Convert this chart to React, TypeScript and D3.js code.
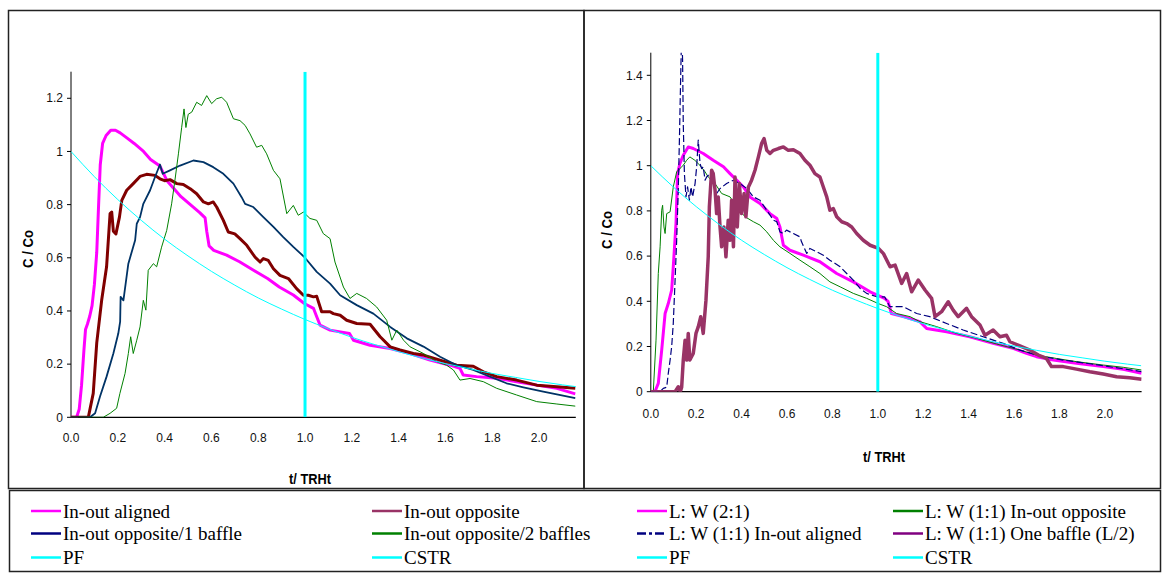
import React from "react";
import * as d3 from "d3";

type Pt = [number, number];

// ---------- tick labels ----------
const xTickValues = [0, 0.2, 0.4, 0.6, 0.8, 1.0, 1.2, 1.4, 1.6, 1.8, 2.0];
const leftYTickValues = [0, 0.2, 0.4, 0.6, 0.8, 1, 1.2];
const rightYTickValues = [0, 0.2, 0.4, 0.6, 0.8, 1, 1.2, 1.4];
const yAxisTitle = "C / Co";
const xAxisTitle = "t/ TRHt";
const pfTime = 1.0;

// ---------- left chart series ----------
const inOutAligned: Pt[] = [
  [0, 0], [0.024, 0], [0.035, 0.03], [0.045, 0.12], [0.055, 0.25], [0.062, 0.33], [0.07, 0.35], [0.08, 0.38],
  [0.09, 0.42], [0.1, 0.5], [0.11, 0.62], [0.118, 0.8], [0.125, 0.95], [0.135, 1.03], [0.15, 1.06], [0.17, 1.08],
  [0.19, 1.08], [0.21, 1.07], [0.24, 1.05], [0.27, 1.03], [0.31, 1.0], [0.34, 0.97], [0.38, 0.945], [0.41, 0.89],
  [0.44, 0.86], [0.47, 0.83], [0.51, 0.8], [0.55, 0.77], [0.573, 0.75], [0.58, 0.7], [0.59, 0.645], [0.61, 0.628],
  [0.665, 0.61], [0.72, 0.585], [0.78, 0.553], [0.84, 0.522], [0.89, 0.49], [0.95, 0.46], [0.997, 0.428],
  [1.036, 0.41], [1.05, 0.378], [1.064, 0.347], [1.107, 0.328], [1.19, 0.315], [1.207, 0.29], [1.278, 0.271],
  [1.364, 0.259], [1.449, 0.24], [1.534, 0.215], [1.62, 0.196], [1.662, 0.184], [1.676, 0.159], [1.733, 0.153],
  [1.819, 0.147], [1.904, 0.134], [1.99, 0.121], [2.076, 0.109], [2.155, 0.088],
];

const inOutOpposite: Pt[] = [
  [0, 0], [0.074, 0], [0.081, 0.03], [0.095, 0.09], [0.11, 0.28], [0.131, 0.44], [0.152, 0.566], [0.167, 0.766],
  [0.174, 0.772], [0.181, 0.7], [0.192, 0.69], [0.207, 0.753], [0.217, 0.816], [0.238, 0.854], [0.266, 0.879],
  [0.295, 0.906], [0.323, 0.914], [0.359, 0.91], [0.38, 0.897], [0.4, 0.89], [0.423, 0.894], [0.452, 0.879],
  [0.48, 0.876], [0.509, 0.86], [0.537, 0.841], [0.566, 0.81], [0.587, 0.803], [0.608, 0.81], [0.623, 0.79],
  [0.651, 0.741], [0.672, 0.697], [0.7, 0.69], [0.722, 0.672], [0.751, 0.647], [0.786, 0.603], [0.808, 0.584],
  [0.822, 0.597], [0.843, 0.59], [0.865, 0.559], [0.893, 0.534], [0.929, 0.522], [0.964, 0.484], [0.993, 0.459],
  [1.014, 0.459], [1.036, 0.453], [1.05, 0.455], [1.071, 0.397], [1.107, 0.397], [1.121, 0.39], [1.15, 0.384],
  [1.178, 0.365], [1.221, 0.353], [1.278, 0.35], [1.321, 0.303], [1.364, 0.265], [1.406, 0.253], [1.463, 0.24],
  [1.506, 0.234], [1.577, 0.215], [1.648, 0.196], [1.719, 0.192], [1.762, 0.171], [1.819, 0.153], [1.904, 0.14],
  [1.99, 0.121], [2.076, 0.115], [2.155, 0.109],
];

const opposite1Baffle: Pt[] = [
  [0, 0], [0.081, 0], [0.103, 0.015], [0.124, 0.078], [0.152, 0.153], [0.181, 0.24], [0.202, 0.315], [0.21, 0.36],
  [0.212, 0.453], [0.224, 0.44], [0.245, 0.578], [0.274, 0.666], [0.281, 0.728], [0.295, 0.753], [0.309, 0.803],
  [0.338, 0.854], [0.359, 0.904], [0.38, 0.951], [0.392, 0.916], [0.423, 0.929], [0.466, 0.947], [0.523, 0.966],
  [0.566, 0.96], [0.608, 0.941], [0.651, 0.916], [0.694, 0.879], [0.729, 0.828], [0.744, 0.803], [0.779, 0.791],
  [0.822, 0.753], [0.865, 0.716], [0.907, 0.678], [0.95, 0.641], [0.997, 0.603], [1.05, 0.547], [1.107, 0.503],
  [1.15, 0.459], [1.221, 0.422], [1.292, 0.39], [1.364, 0.34], [1.435, 0.297], [1.506, 0.266], [1.577, 0.228],
  [1.648, 0.196], [1.719, 0.178], [1.79, 0.153], [1.861, 0.128], [1.933, 0.113], [2.018, 0.097], [2.155, 0.072],
];

const opposite2Baffles: Pt[] = [
  [0, 0], [0.138, 0], [0.167, 0.015], [0.195, 0.034], [0.209, 0.09], [0.231, 0.165], [0.245, 0.24], [0.255, 0.303],
  [0.266, 0.24], [0.281, 0.29], [0.295, 0.34], [0.309, 0.44], [0.32, 0.403], [0.33, 0.553], [0.352, 0.578],
  [0.366, 0.566], [0.387, 0.64], [0.409, 0.703], [0.43, 0.803], [0.444, 0.891], [0.459, 0.991], [0.473, 1.091],
  [0.483, 1.16], [0.491, 1.09], [0.501, 1.14], [0.516, 1.148], [0.537, 1.185], [0.558, 1.173], [0.58, 1.21],
  [0.601, 1.18], [0.622, 1.198], [0.644, 1.204], [0.665, 1.185], [0.694, 1.123], [0.722, 1.116], [0.744, 1.098],
  [0.765, 1.066], [0.793, 1.016], [0.815, 1.023], [0.836, 0.991], [0.865, 0.929], [0.893, 0.897], [0.922, 0.766],
  [0.95, 0.797], [0.971, 0.76], [0.993, 0.772], [1.021, 0.748], [1.05, 0.741], [1.078, 0.691], [1.107, 0.672],
  [1.128, 0.584], [1.164, 0.49], [1.192, 0.447], [1.221, 0.466], [1.263, 0.447], [1.306, 0.415], [1.349, 0.365],
  [1.371, 0.29], [1.392, 0.328], [1.421, 0.29], [1.449, 0.265], [1.506, 0.24], [1.563, 0.209], [1.605, 0.196],
  [1.634, 0.178], [1.662, 0.14], [1.705, 0.146], [1.762, 0.134], [1.819, 0.109], [1.904, 0.084], [1.99, 0.059],
  [2.076, 0.05], [2.155, 0.042],
];

const cstr: Pt[] = [
  [0, 1], [0.1, 0.905], [0.2, 0.819], [0.3, 0.741], [0.4, 0.67], [0.5, 0.607], [0.6, 0.549], [0.7, 0.497],
  [0.8, 0.449], [0.9, 0.407], [1.0, 0.368], [1.1, 0.333], [1.2, 0.301], [1.3, 0.273], [1.4, 0.247], [1.5, 0.223],
  [1.6, 0.202], [1.7, 0.183], [1.8, 0.165], [1.9, 0.15], [2.0, 0.135], [2.1, 0.122], [2.16, 0.115],
];

// ---------- right chart series ----------
const lw21: Pt[] = [
  [0, 0], [0.018, 0], [0.033, 0.037], [0.048, 0.184], [0.063, 0.346], [0.077, 0.39], [0.092, 0.45], [0.099, 0.553],
  [0.111, 0.744], [0.118, 0.965], [0.128, 1.009], [0.143, 1.046], [0.165, 1.083], [0.187, 1.076], [0.231, 1.054],
  [0.275, 1.024], [0.32, 0.995], [0.349, 0.965], [0.378, 0.936], [0.408, 0.906], [0.437, 0.862], [0.481, 0.833],
  [0.525, 0.788], [0.555, 0.766], [0.569, 0.729], [0.584, 0.648], [0.613, 0.626], [0.672, 0.604], [0.745, 0.575],
  [0.819, 0.523], [0.892, 0.486], [0.966, 0.442], [1.03, 0.413], [1.045, 0.4], [1.06, 0.346], [1.112, 0.332],
  [1.185, 0.31], [1.215, 0.28], [1.303, 0.265], [1.405, 0.243], [1.508, 0.214], [1.596, 0.192], [1.655, 0.17],
  [1.699, 0.155], [1.773, 0.14], [1.875, 0.126], [1.993, 0.111], [2.081, 0.099], [2.162, 0.082],
];

const lw11Opposite: Pt[] = [
  [0, 0], [0.011, 0], [0.023, 0.228], [0.033, 0.523], [0.041, 0.641], [0.048, 0.803], [0.052, 0.825],
  [0.058, 0.729], [0.063, 0.7], [0.07, 0.788], [0.085, 0.796], [0.099, 0.906], [0.114, 0.973], [0.128, 0.987],
  [0.143, 1.002], [0.158, 1.024], [0.172, 1.039], [0.194, 1.024], [0.216, 1.002], [0.239, 0.973], [0.253, 0.95],
  [0.283, 0.921], [0.312, 0.877], [0.349, 0.862], [0.378, 0.818], [0.415, 0.774], [0.452, 0.752], [0.481, 0.737],
  [0.511, 0.707], [0.54, 0.67], [0.569, 0.641], [0.613, 0.612], [0.657, 0.582], [0.701, 0.553], [0.745, 0.523],
  [0.789, 0.486], [0.834, 0.464], [0.892, 0.435], [0.951, 0.413], [1.002, 0.39], [1.039, 0.376], [1.083, 0.346],
  [1.142, 0.332], [1.185, 0.31], [1.259, 0.288], [1.347, 0.258], [1.435, 0.236], [1.523, 0.211], [1.626, 0.184],
  [1.699, 0.162], [1.787, 0.147], [1.875, 0.133], [1.993, 0.118], [2.081, 0.108], [2.162, 0.096],
];

const lw11Aligned: Pt[] = [
  [0, 0], [0.04, 0], [0.055, 0.015], [0.07, 0.02], [0.077, 0.081], [0.085, 0.14], [0.092, 0.2], [0.099, 0.302],
  [0.107, 0.494], [0.114, 0.67], [0.121, 0.892], [0.126, 1.113], [0.132, 1.41], [0.136, 1.6], [0.14, 1.47],
  [0.143, 1.187], [0.148, 0.965], [0.155, 0.862], [0.162, 0.906], [0.17, 0.847], [0.177, 0.906], [0.184, 0.862],
  [0.195, 0.921], [0.202, 0.995], [0.209, 1.113], [0.217, 1.009], [0.224, 0.987], [0.231, 0.995], [0.239, 0.936],
  [0.246, 0.95], [0.261, 0.965], [0.275, 0.921], [0.29, 0.877], [0.305, 0.899], [0.334, 0.921], [0.364, 0.936],
  [0.393, 0.921], [0.423, 0.899], [0.452, 0.862], [0.481, 0.847], [0.511, 0.803], [0.54, 0.759], [0.555, 0.752],
  [0.569, 0.707], [0.584, 0.7], [0.598, 0.715], [0.628, 0.7], [0.657, 0.685], [0.664, 0.663], [0.687, 0.612],
  [0.701, 0.634], [0.731, 0.619], [0.76, 0.604], [0.789, 0.582], [0.834, 0.553], [0.863, 0.523], [0.892, 0.494],
  [0.922, 0.457], [0.951, 0.435], [0.995, 0.42], [1.03, 0.42], [1.053, 0.376], [1.112, 0.376], [1.171, 0.346],
  [1.229, 0.332], [1.303, 0.302], [1.376, 0.273], [1.464, 0.243], [1.552, 0.214], [1.626, 0.184], [1.729, 0.155],
  [1.817, 0.14], [1.919, 0.126], [2.037, 0.108], [2.162, 0.089],
];

const lw11Baffle: Pt[] = [
  [0, 0], [0.107, 0], [0.121, 0.022], [0.13, 0.0], [0.136, 0.02], [0.143, 0.14], [0.151, 0.228], [0.158, 0.14],
  [0.165, 0.258], [0.172, 0.14], [0.187, 0.169], [0.199, 0.258], [0.209, 0.287], [0.22, 0.332], [0.231, 0.258],
  [0.243, 0.405], [0.253, 0.597], [0.258, 0.818], [0.268, 0.98], [0.275, 0.965], [0.283, 0.892], [0.29, 0.788],
  [0.297, 0.862], [0.305, 0.729], [0.312, 0.641], [0.322, 0.729], [0.331, 0.597], [0.341, 0.759], [0.349, 0.67],
  [0.356, 0.847], [0.364, 0.641], [0.371, 0.95], [0.381, 0.729], [0.39, 0.921], [0.4, 0.788], [0.411, 0.877],
  [0.419, 0.774], [0.43, 0.906], [0.444, 0.936], [0.459, 0.98], [0.474, 1.039], [0.488, 1.098], [0.499, 1.12],
  [0.511, 1.068], [0.525, 1.054], [0.54, 1.068], [0.562, 1.076], [0.584, 1.083], [0.606, 1.068], [0.628, 1.071],
  [0.657, 1.054], [0.679, 1.024], [0.701, 1.002], [0.723, 0.965], [0.745, 0.95], [0.76, 0.906], [0.775, 0.862],
  [0.789, 0.803], [0.804, 0.81], [0.819, 0.774], [0.841, 0.752], [0.863, 0.744], [0.885, 0.729], [0.907, 0.7],
  [0.936, 0.67], [0.966, 0.648], [1.003, 0.634], [1.025, 0.611], [1.054, 0.553], [1.076, 0.56], [1.105, 0.479],
  [1.127, 0.523], [1.149, 0.442], [1.178, 0.494], [1.208, 0.45], [1.237, 0.413], [1.252, 0.332], [1.281, 0.354],
  [1.31, 0.398], [1.332, 0.361], [1.354, 0.332], [1.391, 0.369], [1.413, 0.332], [1.45, 0.295], [1.472, 0.25],
  [1.508, 0.273], [1.538, 0.243], [1.567, 0.25], [1.582, 0.221], [1.618, 0.206], [1.67, 0.184], [1.707, 0.162],
  [1.743, 0.147], [1.765, 0.111], [1.817, 0.111], [1.875, 0.1], [1.934, 0.088], [1.993, 0.078], [2.052, 0.066],
  [2.11, 0.062], [2.162, 0.055],
];

// ---------- legend ----------
const legendLabels = [
  ["In-out aligned", "In-out opposite/1 baffle", "PF"],
  ["In-out opposite", "In-out opposite/2 baffles", "CSTR"],
  ["L: W (2:1)", "L: W (1:1) In-out aligned", "PF"],
  ["L: W (1:1) In-out opposite", "L: W (1:1) One baffle (L/2)", "CSTR"],
];
const legendColors = [
  ["#FF00FF", "#000080", "#00FFFF"],
  ["#993366", "#008000", "#00FFFF"],
  ["#FF00FF", "#000080", "#00FFFF"],
  ["#008000", "#800080", "#00FFFF"],
];
const legendDash = [
  [null, null, null],
  [null, null, null],
  [null, "9,3,3,3", null],
  [null, null, null],
];

type SeriesDef = { data: Pt[]; color: string; width: number; dash?: string; smooth?: boolean };

type PanelProps = {
  id: string;
  x0: number; x1: number; y0: number; y1: number;
  xMax: number; yMax: number;
  yTicks: number[];
  xLabelBaseline: number;
  xTitle: [number, number];
  yTitle: [number, number];
  series: SeriesDef[];
};

const SANS = "'Liberation Sans', Arial, sans-serif";
const SERIF = "'Liberation Serif', 'Times New Roman', serif";

function Panel(p: PanelProps) {
  const x = d3.scaleLinear().domain([0, p.xMax]).range([p.x0, p.x1]);
  const y = d3.scaleLinear().domain([0, p.yMax]).range([p.y0, p.y1]);
  const line = d3.line<Pt>().x((d) => x(d[0])).y((d) => y(d[1]));
  const smoothLine = d3.line<Pt>().x((d) => x(d[0])).y((d) => y(d[1])).curve(d3.curveMonotoneX);
  const fmtY = d3.format("");
  return (
    <g>
      <defs>
        <clipPath id={p.id}>
          <rect x={p.x0} y={p.y1} width={p.x1 - p.x0} height={p.y0 - p.y1} />
        </clipPath>
      </defs>
      {/* axes */}
      <line x1={p.x0} x2={p.x0} y1={p.y1} y2={p.y0} stroke="#000" strokeWidth={1} />
      <line x1={p.x0} x2={p.x1} y1={p.y0} y2={p.y0} stroke="#000" strokeWidth={1.3} />
      {p.yTicks.map((t) => (
        <g key={"yt" + t}>
          <line x1={p.x0 - 4} x2={p.x0} y1={y(t)} y2={y(t)} stroke="#000" strokeWidth={1} />
          <text x={p.x0 - 8} y={y(t) + 4.2} textAnchor="end" fontFamily={SANS} fontSize={12} fill="#111">
            {fmtY(t)}
          </text>
        </g>
      ))}
      {xTickValues.map((t) => (
        <text key={"xt" + t} x={x(t)} y={p.xLabelBaseline} textAnchor="middle" fontFamily={SANS} fontSize={12} fill="#111">
          {t.toFixed(1)}
        </text>
      ))}
      <text x={p.xTitle[0]} y={p.xTitle[1]} textAnchor="middle" fontFamily={SANS} fontSize={14} fontWeight="bold"
        textLength={42} lengthAdjust="spacingAndGlyphs">
        {xAxisTitle}
      </text>
      <text transform={`translate(${p.yTitle[0]},${p.yTitle[1]}) rotate(-90)`} textAnchor="middle" fontFamily={SANS}
        fontSize={14} fontWeight="bold" textLength={38} lengthAdjust="spacingAndGlyphs">
        {yAxisTitle}
      </text>
      <g clipPath={`url(#${p.id})`}>
        {p.series.map((s, i) => (
          <path key={i} d={(s.smooth ? smoothLine : line)(s.data) || ""} fill="none" stroke={s.color}
            strokeWidth={s.width} strokeDasharray={s.dash} strokeLinejoin="round" />
        ))}
        <line x1={x(pfTime)} x2={x(pfTime)} y1={p.y1} y2={p.y0} stroke="#00FFFF" strokeWidth={3} />
      </g>
    </g>
  );
}

export default function App() {
  const colX = [31, 372, 637, 893];
  const rowY = [511, 533.5, 557.5];
  return (
    <svg width={1164} height={575} style={{ position: "absolute", left: 0, top: 0, background: "#fff" }}>
      <rect x={0} y={0} width={1164} height={575} fill="#fff" />
      {/* panel frames */}
      <rect x={8.5} y={10.5} width={575.5} height={478} fill="none" stroke="#222" strokeWidth={1.5} />
      <rect x={584} y={10.5} width={576.5} height={478} fill="none" stroke="#222" strokeWidth={1.5} />
      <Panel
        id="clipL"
        x0={71} x1={575.8} y0={417.3} y1={71.7}
        xMax={2.157} yMax={1.3}
        yTicks={leftYTickValues}
        xLabelBaseline={441.5}
        xTitle={[310, 483.5]}
        yTitle={[32.5, 249]}
        series={[
          { data: inOutAligned, color: "#FF00FF", width: 3 },
          { data: inOutOpposite, color: "#800000", width: 3 },
          { data: opposite1Baffle, color: "#003366", width: 1.8 },
          { data: opposite2Baffles, color: "#008000", width: 1 },
          { data: cstr, color: "#00FFFF", width: 1, smooth: true },
        ]}
      />
      <Panel
        id="clipR"
        x0={650.8} x1={1141.6} y0={391.7} y1={52.7}
        xMax={2.162} yMax={1.5}
        yTicks={rightYTickValues}
        xLabelBaseline={418}
        xTitle={[884, 462]}
        yTitle={[612, 230]}
        series={[
          { data: lw21, color: "#FF00FF", width: 3 },
          { data: lw11Opposite, color: "#008000", width: 1 },
          { data: lw11Aligned, color: "#000080", width: 1.2, dash: "7,3" },
          { data: lw11Baffle, color: "#993366", width: 3.5 },
          { data: cstr, color: "#00FFFF", width: 1, smooth: true },
        ]}
      />
      {/* legend */}
      <rect x={9.5} y={490.5} width={1151} height={81} fill="#fff" stroke="#222" strokeWidth={1.5} />
      {legendLabels.map((col, ci) =>
        col.map((label, ri) => (
          <g key={ci + "-" + ri}>
            <line x1={colX[ci]} x2={colX[ci] + 30} y1={rowY[ri]} y2={rowY[ri]} stroke={legendColors[ci][ri]}
              strokeWidth={2.5} strokeDasharray={legendDash[ci][ri] || undefined} />
            <text x={colX[ci] + 32} y={rowY[ri] + 6.5} fontFamily={SERIF} fontSize={19} fill="#000">
              {label}
            </text>
          </g>
        ))
      )}
    </svg>
  );
}
